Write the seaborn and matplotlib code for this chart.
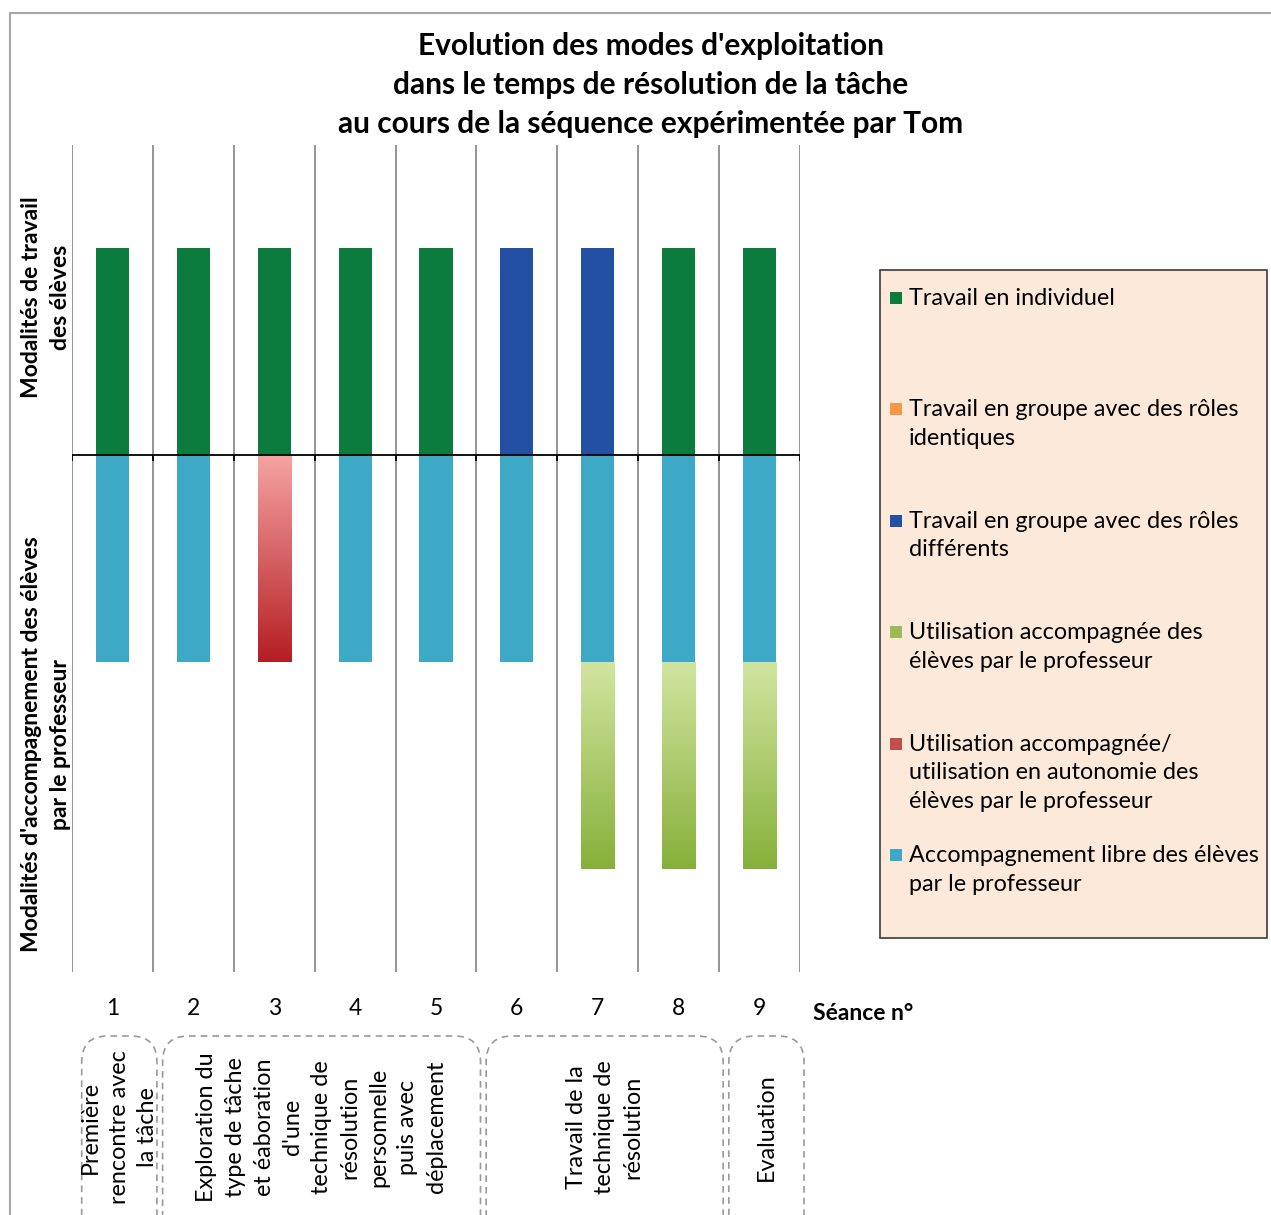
import numpy as np
import matplotlib
matplotlib.use('Agg')
import matplotlib.pyplot as plt
import seaborn as sns
from matplotlib.patches import Rectangle, FancyBboxPatch
from matplotlib.colors import LinearSegmentedColormap
from matplotlib.transforms import blended_transform_factory

# séances
seances = ['1', '2', '3', '4', '5', '6', '7', '8', '9']

# modalités de travail des élèves (au-dessus de l'axe)
individuel = [1, 1, 1, 1, 1, 0, 0, 1, 1]
groupe_identiques = [0, 0, 0, 0, 0, 0, 0, 0, 0]
groupe_differents = [0, 0, 0, 0, 0, 1, 1, 0, 0]

# modalités d'accompagnement (en dessous de l'axe)
accomp_libre = [-1, -1, 0, -1, -1, -1, -1, -1, -1]
accomp_autonomie = [0, 0, -1, 0, 0, 0, 0, 0, 0]
accomp_prof = [0, 0, 0, 0, 0, 0, -1, -1, -1]

legend_labels = [
    'Travail en individuel',
    'Travail en groupe avec des rôles\nidentiques',
    'Travail en groupe avec des rôles\ndifférents',
    'Utilisation accompagnée des\nélèves par le professeur',
    'Utilisation accompagnée/\nutilisation en autonomie des\nélèves par le professeur',
    'Accompagnement libre des élèves\npar le professeur',
]

# phases de la séquence
phase_labels = [
    'Première\nrencontre avec\nla tâche',
    "Exploration du\ntype de tâche\net éaboration\nd'une\ntechnique de\nrésolution\npersonnelle\npuis avec\ndéplacement",
    'Travail de la\ntechnique de\nrésolution',
    'Evaluation',
]
phase_first = ['1', '2', '6', '9']
phase_last = ['1', '5', '8', '9']

# colours
c_indiv = '#0B7B3E'
c_ident = '#F79646'
c_diff = '#2450A4'
c_prof = '#9BBB59'
c_auto = '#C0504D'
c_libre = '#3DA9C6'
grad_prof = ['#D2E5A0', '#86B03A']
grad_auto = ['#F6A3A3', '#B41E22']

W, H = 1271, 1215
sns.set_style('white')
plt.rcParams['font.family'] = ['Lato', 'DejaVu Sans']
plt.rcParams['text.color'] = 'black'
plt.rcParams['xtick.color'] = 'black'

fig = plt.figure(figsize=(W / 100, H / 100), dpi=100)
ax = fig.add_axes([72 / W, 1 - 972 / H, (800 - 72) / W, (972 - 145) / H])


def stack(values, bottom, color, gradient=None):
    n0 = len(ax.patches)
    sns.barplot(x=seances, y=values, bottom=bottom, color=color, width=0.41,
                saturation=1, errorbar=None, linewidth=0, ax=ax, zorder=3)
    if gradient is None:
        return
    cmap = LinearSegmentedColormap.from_list('grad', gradient)
    for bar, v in zip(ax.patches[n0:], values):
        if v == 0:
            continue
        x0, y0 = bar.get_x(), bar.get_y()
        x1, y1 = x0 + bar.get_width(), y0 + bar.get_height()
        ax.imshow(np.linspace(0, 1, 256).reshape(-1, 1), cmap=cmap, aspect='auto',
                  extent=[x0, x1, min(y0, y1), max(y0, y1)], origin='upper',
                  clip_path=bar, zorder=4)


zeros = np.zeros(len(seances))
pos1 = np.array(individuel)
pos2 = pos1 + np.array(groupe_identiques)
neg1 = np.array(accomp_libre) + np.array(accomp_autonomie)

stack(individuel, zeros, c_indiv)
stack(groupe_identiques, pos1, c_ident)
stack(groupe_differents, pos2, c_diff)
stack(accomp_libre, zeros, c_libre)
stack(accomp_autonomie, zeros, c_auto, grad_auto)
stack(accomp_prof, neg1, c_prof, grad_prof)

ax.set_xlim(-0.5, len(seances) - 0.5)
ax.set_ylim(-2.5, 1.5)
ax.set_yticks([])
ax.set_xlabel('')
ax.set_ylabel('')
for s in ax.spines.values():
    s.set_visible(False)

# séparateurs verticaux entre séances
bounds = np.arange(len(seances) + 1) - 0.5
ax.set_xticks(bounds, minor=True)
ax.grid(which='minor', axis='x', color='#8c8c8c', lw=1.3, zorder=1)
ax.tick_params(axis='x', which='both', length=0, pad=19, labelsize=16.5)
ax.axhline(0, color='black', lw=1.3, zorder=5)
ax.vlines(bounds, -0.03, 0, color='black', lw=1.3, zorder=5)

# titre
fig.text(651 / W, 1 - 85 / H,
         "Evolution des modes d'exploitation\ndans le temps de résolution de la tâche\n"
         "au cours de la séquence expérimentée par Tom",
         ha='center', va='center', fontsize=21.5, fontweight='bold', linespacing=1.5)

# titres des deux zones
fig.text(46 / W, 1 - 297 / H, 'Modalités de travail\ndes élèves', rotation=90,
         ha='center', va='center', fontsize=16.5, fontweight='bold', linespacing=1.45)
fig.text(46 / W, 1 - 744 / H, "Modalités d'accompagnement des élèves\npar le professeur",
         rotation=90, ha='center', va='center', fontsize=16.5, fontweight='bold',
         linespacing=1.45)

fig.text(813 / W, 1 - 1013 / H, 'Séance n°', ha='left', va='center',
         fontsize=16.5, fontweight='bold')

# cadre extérieur
fig.add_artist(Rectangle((10 / W, -0.05), 1.0, 1.05 - 13 / H, transform=fig.transFigure,
                         fill=False, edgecolor='#a6a6a6', lw=1.5))

# légende
fig.add_artist(Rectangle((880 / W, 1 - 938 / H), (1267 - 880) / W, (938 - 270) / H,
                         transform=fig.transFigure, facecolor='#FDE9D9',
                         edgecolor='#3a3a3a', lw=1.2))
leg_colors = [c_indiv, c_ident, c_diff, c_prof, c_auto, c_libre]
for i, (lab, col) in enumerate(zip(legend_labels, leg_colors)):
    yc = 298 + i * 111.4
    fig.add_artist(Rectangle((890 / W, 1 - (yc + 6) / H), 12 / W, 12 / H,
                             transform=fig.transFigure, facecolor=col, edgecolor='none'))
    fig.text(909 / W, 1 - (yc - 10) / H, lab, ha='left', va='top',
             fontsize=16.8, linespacing=1.45)

# phases (cadres pointillés)
trans = blended_transform_factory(ax.transData, fig.transFigure)
px_per_x = ax.bbox.width / len(seances)
for lab, a, b in zip(phase_labels, phase_first, phase_last):
    xa = seances.index(a) - 0.38
    xb = seances.index(b) + 0.55
    box = FancyBboxPatch((xa, -0.05), xb - xa, 0.05 + 1 - 1036 / H,
                         boxstyle='round,pad=0,rounding_size=0.32',
                         mutation_aspect=px_per_x / fig.bbox.height,
                         transform=trans, fill=False, edgecolor='#9a9a9a',
                         lw=1.2, linestyle=(0, (4, 3)), clip_on=False)
    fig.add_artist(box)
    fig.text((xa + xb) / 2, 1 - 1127 / H, lab, transform=trans, rotation=90,
             ha='center', va='center', multialignment='center',
             fontsize=16.8, linespacing=1.45)

fig.savefig('out.png', dpi=100)
